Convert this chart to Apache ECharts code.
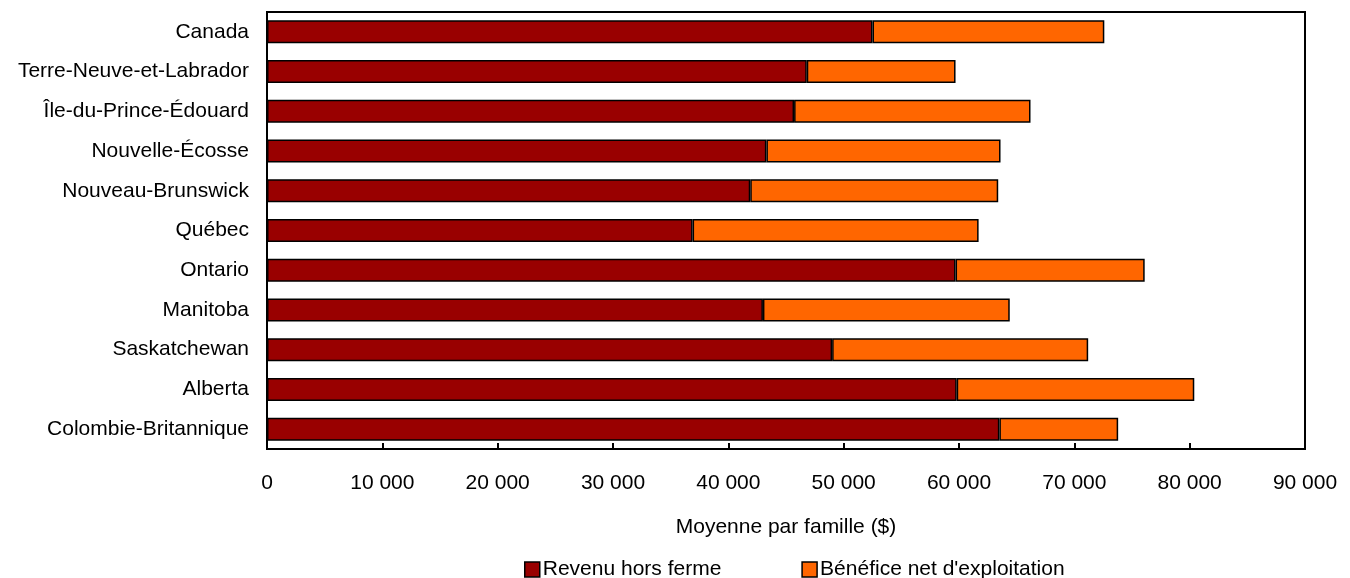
<!DOCTYPE html>
<html>
<head>
<meta charset="utf-8">
<script src="https://cdn.jsdelivr.net/npm/echarts@6/dist/echarts.min.js"></script>
<style>
  html, body { margin: 0; padding: 0; background: #fff; }
  #chart { width: 1350px; height: 578px; }
</style>
</head>
<body>
<div id="chart"></div>
<script>
var provinces = ['Canada', 'Terre-Neuve-et-Labrador', 'Île-du-Prince-Édouard', 'Nouvelle-Écosse',
  'Nouveau-Brunswick', 'Québec', 'Ontario', 'Manitoba', 'Saskatchewan', 'Alberta', 'Colombie-Britannique'];
var revenuHorsFerme = [52500, 46800, 45700, 43300, 41900, 36900, 59700, 43000, 49000, 59800, 63500];
var beneficeNet = [20100, 12900, 20500, 20300, 21500, 24800, 16400, 21400, 22200, 20600, 10300];
var seriesNames = ['Revenu hors ferme', "Bénéfice net d'exploitation"];

var chart = echarts.init(document.getElementById('chart'));

function fmt(v) {
  return String(v).replace(/\B(?=(\d{3})+(?!\d))/g, ' ');
}

var font = 'Liberation Sans, Arial, Helvetica, sans-serif';
var fs = 21;

var option = {
  backgroundColor: '#ffffff',
  animation: false,
  color: ['#990000', '#ff6600'],
  textStyle: { fontFamily: font },
  grid: {
    left: 267, right: 45, top: 12, bottom: 129,
    show: true, borderColor: '#000', borderWidth: 2, backgroundColor: 'transparent'
  },
  legend: {
    top: 559,
    left: 524,
    padding: 0,
    itemGap: 80,
    itemWidth: 15,
    itemHeight: 15,
    icon: 'rect',
    itemStyle: { borderColor: '#000', borderWidth: 1.5 },
    textStyle: { fontSize: fs, color: '#000', fontFamily: font, padding: [0, 0, 0, -2] },
    data: seriesNames
  },
  xAxis: {
    type: 'value',
    min: 0, max: 90000, interval: 10000,
    name: 'Moyenne par famille ($)',
    nameLocation: 'middle',
    nameGap: 68,
    nameTextStyle: { fontSize: fs, color: '#000', fontFamily: font },
    axisLine: { show: true, lineStyle: { color: '#000', width: 2 } },
    axisTick: { show: true, inside: true, length: 6, lineStyle: { color: '#000', width: 2 } },
    splitLine: { show: false },
    axisLabel: { fontSize: fs, color: '#000', margin: 24, formatter: fmt, fontFamily: font }
  },
  yAxis: {
    type: 'category',
    inverse: true,
    data: provinces,
    axisLine: { show: true, lineStyle: { color: '#000', width: 2 } },
    axisTick: { show: false },
    axisLabel: { fontSize: fs, color: '#000', margin: 18, fontFamily: font }
  },
  series: [{
    name: seriesNames[0],
    type: 'bar',
    stack: 'total',
    barWidth: 23,
    data: revenuHorsFerme,
    itemStyle: { borderColor: '#000', borderWidth: 1.5 }
  }, {
    name: seriesNames[1],
    type: 'bar',
    stack: 'total',
    barWidth: 23,
    data: beneficeNet,
    itemStyle: { borderColor: '#000', borderWidth: 1.5 }
  }]
};

chart.setOption(option);
</script>
</body>
</html>
